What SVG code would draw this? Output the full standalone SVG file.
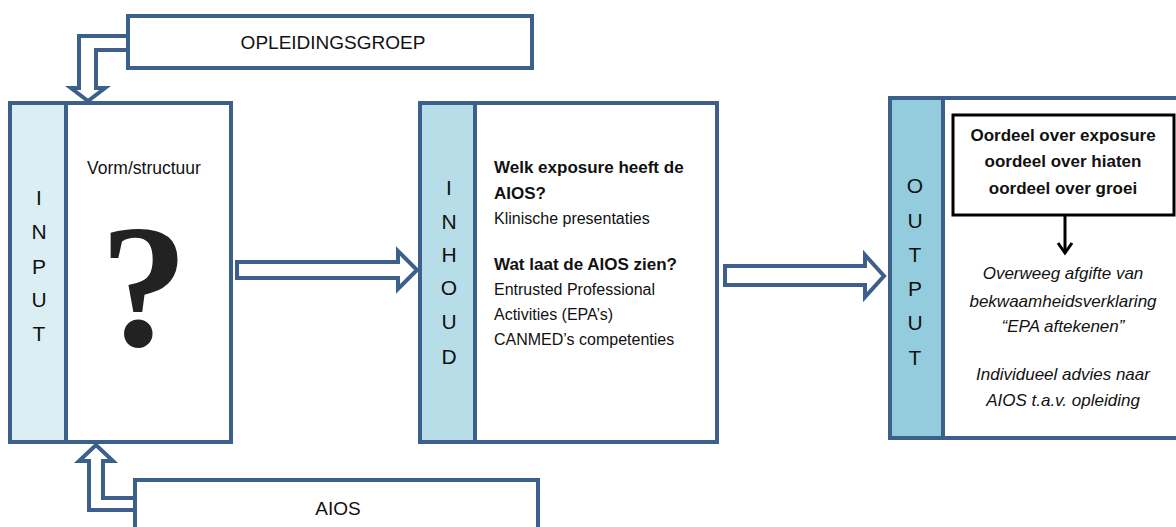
<svg xmlns="http://www.w3.org/2000/svg" width="1176" height="527" viewBox="0 0 1176 527">
<style>
.box{fill:#fff;stroke:#3c5f8c;stroke-width:4}
.arr{fill:#fff;stroke:#3c5f8c;stroke-width:4;stroke-linejoin:miter}
.lbl{font-family:"Liberation Sans",Arial,sans-serif;fill:#111}
.vert{font-family:"Liberation Sans",Arial,sans-serif;font-size:21px;fill:#111;text-anchor:middle}
.b{font-weight:bold;font-size:17px}
.n{font-size:16px}
.i{font-style:italic;font-size:17px;text-anchor:middle}
.c{text-anchor:middle}
</style>
<rect width="1176" height="527" fill="#fff"/>
<g id="connectors">
<polygon class="arr" points="128,36 79,36 79,88 71,88 88,101 105,88 96,88 96,50 128,50"/>
<polygon class="arr" points="135,510 89,510 89,461 79,461 96,445 113,461 103,461 103,498 135,498"/>
<polygon class="arr" points="237,262 398,262 398,251 417,270 398,289 398,278 237,278"/>
<polygon class="arr" points="725,266 865,266 865,255 884,276 865,297 865,285 725,285"/>
</g>
<g id="opleidingsgroep">
<rect class="box" x="128" y="16" width="404" height="52"/>
<text class="lbl c" x="333" y="49" font-size="19">OPLEIDINGSGROEP</text>
</g>
<g id="aios">
<rect class="box" x="135" y="480" width="403" height="60"/>
<text class="lbl c" x="338" y="515" font-size="19">AIOS</text>
</g>
<g id="input">
<rect class="box" x="10" y="103" width="221" height="339"/>
<rect x="12" y="105" width="54" height="335" fill="#dbeef4"/>
<line x1="66" y1="103" x2="66" y2="442" stroke="#3c5f8c" stroke-width="4"/>
<text class="vert" x="39" y="205">I</text>
<text class="vert" x="39" y="239">N</text>
<text class="vert" x="39" y="274">P</text>
<text class="vert" x="39" y="307">U</text>
<text class="vert" x="39" y="341">T</text>
<text class="lbl c" x="144" y="174" font-size="17.5">Vorm/structuur</text>
<text x="144" y="346" text-anchor="middle" font-family="'Liberation Serif','Times New Roman',serif" font-weight="bold" font-size="176" fill="#222">?</text>
</g>
<g id="inhoud">
<rect class="box" x="420" y="103" width="297" height="339"/>
<rect x="422" y="105" width="53" height="335" fill="#b7dee8"/>
<line x1="475" y1="103" x2="475" y2="442" stroke="#3c5f8c" stroke-width="4"/>
<text class="vert" x="449" y="195">I</text>
<text class="vert" x="449" y="229">N</text>
<text class="vert" x="449" y="262">H</text>
<text class="vert" x="449" y="295">O</text>
<text class="vert" x="449" y="329">U</text>
<text class="vert" x="449" y="364">D</text>
<text class="lbl b" x="494" y="173">Welk exposure heeft de</text>
<text class="lbl b" x="494" y="199">AIOS?</text>
<text class="lbl n" x="494" y="224">Klinische presentaties</text>
<text class="lbl b" x="494" y="270">Wat laat de AIOS zien?</text>
<text class="lbl n" x="494" y="295">Entrusted Professional</text>
<text class="lbl n" x="494" y="320">Activities (EPA’s)</text>
<text class="lbl n" x="494" y="345">CANMED’s competenties</text>
</g>
<g id="output">
<rect class="box" x="890" y="98" width="300" height="340"/>
<rect x="892" y="100" width="51" height="336" fill="#93cddd"/>
<line x1="943" y1="98" x2="943" y2="438" stroke="#3c5f8c" stroke-width="4"/>
<text class="vert" x="915" y="193">O</text>
<text class="vert" x="915" y="228">U</text>
<text class="vert" x="915" y="262">T</text>
<text class="vert" x="915" y="296">P</text>
<text class="vert" x="915" y="330">U</text>
<text class="vert" x="915" y="365">T</text>
<rect x="953" y="115" width="221" height="100" fill="#fff" stroke="#000" stroke-width="3"/>
<text class="lbl b c" x="1063" y="141">Oordeel over exposure</text>
<text class="lbl b c" x="1063" y="167">oordeel over hiaten</text>
<text class="lbl b c" x="1063" y="194">oordeel over groei</text>
<line x1="1065" y1="215" x2="1065" y2="253" stroke="#000" stroke-width="3"/>
<polyline points="1058,243 1065,253 1072,243" fill="none" stroke="#000" stroke-width="3"/>
<text class="lbl i" x="1063" y="279">Overweeg afgifte van</text>
<text class="lbl i" x="1063" y="307">bekwaamheidsverklaring</text>
<text class="lbl i" x="1063" y="332">“EPA aftekenen”</text>
<text class="lbl i" x="1063" y="380">Individueel advies naar</text>
<text class="lbl i" x="1063" y="406">AIOS t.a.v. opleiding</text>
</g>
</svg>
